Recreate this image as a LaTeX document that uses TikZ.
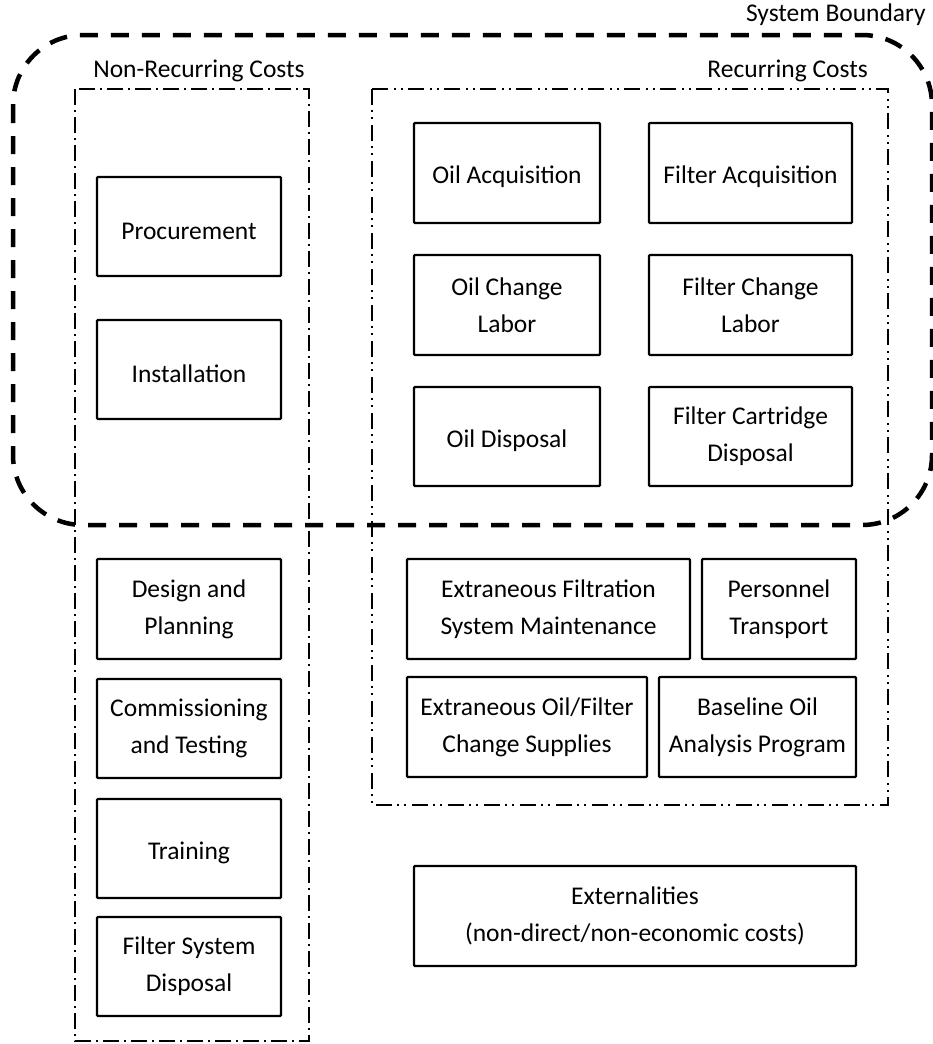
\documentclass[tikz,border=0pt]{standalone}
\usepackage{fontspec}
\setmainfont{Carlito}
\newcommand\cbox[6]{\node[costbox, minimum width={(#4-#2)*1pt}, minimum height={(#5-#3)*1pt}] (#1) at ({(#2+#4)/2},{(#3+#5)/2}) {#6};}
\begin{document}
\begin{tikzpicture}[x=1pt,y=-1pt,
  costbox/.style={draw, line width=2.2pt, rounded corners=1pt, inner sep=0pt, align=center, font=\fontsize{25.5}{37}\selectfont, execute at begin node={\rule{0pt}{26pt}}},
  lbl/.style={inner sep=0pt, font=\fontsize{25.5}{30}\selectfont},
  boundary/.style={line width=4.5pt, dash pattern=on 18pt off 13pt},
  nonrec/.style={line width=2pt, dash pattern=on 16pt off 5pt on 2pt off 5pt},
  recur/.style={line width=2pt, dash pattern=on 16pt off 5pt on 2pt off 5pt on 2pt off 6pt}]
\useasboundingbox (0,0) rectangle (933,1044);
% group frames
\draw[nonrec] (75,89) rectangle (309,1041);
\draw[recur] (372,89) rectangle (888,805);
\draw[boundary, rounded corners=70pt] (13,35) rectangle (932,525);
% labels
\node[lbl, anchor=east] (sb) at (926,15) {System Boundary};
\node[lbl] (nrc) at (199,71) {Non-Recurring Costs};
\node[lbl, anchor=east] (rc) at (868,71) {Recurring Costs};
% non-recurring
\cbox{proc}{97}{177}{281}{276}{Procurement}
\cbox{inst}{97}{320}{281}{419}{Installation}
\cbox{design}{97}{559}{281}{659}{Design and\\Planning}
\cbox{comm}{97}{679}{281}{778}{Commissioning\\and Testing}
\cbox{train}{97}{799}{281}{898}{Training}
\cbox{fsd}{97}{917}{281}{1016}{Filter System\\Disposal}
% recurring
\cbox{oacq}{414}{123}{600}{223}{Oil Acquisition}
\cbox{facq}{649}{123}{852}{223}{Filter Acquisition}
\cbox{ocl}{414}{255}{600}{355}{Oil Change\\Labor}
\cbox{fcl}{649}{255}{852}{355}{Filter Change\\Labor}
\cbox{odisp}{414}{387}{600}{486}{Oil Disposal}
\cbox{fcd}{649}{387}{852}{486}{Filter Cartridge\\Disposal}
\cbox{efsm}{407}{559}{690}{659}{Extraneous Filtration\\System Maintenance}
\cbox{pt}{702}{559}{856}{659}{Personnel\\Transport}
\cbox{eofc}{407}{677}{647}{777}{Extraneous Oil/Filter\\Change Supplies}
\cbox{boap}{659}{677}{856}{777}{Baseline Oil\\Analysis Program}
% externalities
\cbox{ext}{414}{866}{856}{966}{Externalities\\(non-direct/non-economic costs)}
\end{tikzpicture}
\end{document}
